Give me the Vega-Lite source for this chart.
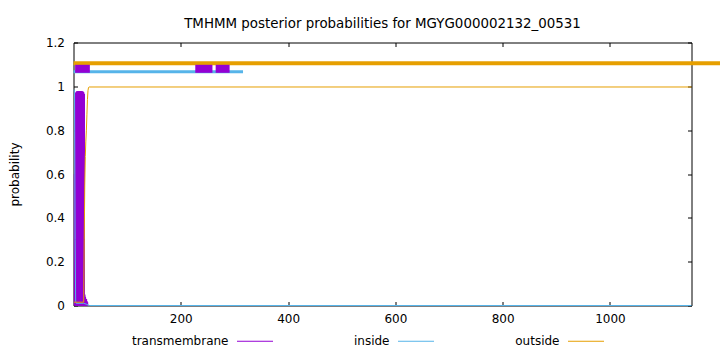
{
  "$schema": "https://vega.github.io/schema/vega-lite/v6.json",
  "width": 618,
  "height": 263,
  "autosize": {"type": "none"},
  "padding": {"left": 73.5, "top": 42.5, "right": 28.5, "bottom": 46.5},
  "background": "white",
  "config": {
    "font": "DejaVu Sans",
    "view": {"stroke": "#000", "strokeWidth": 1},
    "axis": {
      "domain": false, "grid": false, "tickColor": "#000", "tickSize": -4,
      "labelColor": "#000", "labelFont": "DejaVu Sans", "labelFontSize": 12,
      "titleFont": "DejaVu Sans", "titleFontSize": 12, "titleFontWeight": "normal", "titleColor": "#000"
    }
  },
  "title": {
    "text": "TMHMM posterior probabilities for MGYG000002132_00531",
    "font": "DejaVu Sans", "fontSize": 13.4, "fontWeight": "normal", "color": "#000",
    "anchor": "middle", "frame": "group", "offset": -5, "baseline": "alphabetic"
  },
  "datasets": {
    "curves": [
      {"pos": 3, "series": "transmembrane", "prob": 0.6},
      {"pos": 4, "series": "transmembrane", "prob": 0.95},
      {"pos": 5, "series": "transmembrane", "prob": 0.97},
      {"pos": 6, "series": "transmembrane", "prob": 0.975},
      {"pos": 7, "series": "transmembrane", "prob": 0.977},
      {"pos": 8, "series": "transmembrane", "prob": 0.977},
      {"pos": 9, "series": "transmembrane", "prob": 0.977},
      {"pos": 10, "series": "transmembrane", "prob": 0.977},
      {"pos": 11, "series": "transmembrane", "prob": 0.977},
      {"pos": 12, "series": "transmembrane", "prob": 0.977},
      {"pos": 13, "series": "transmembrane", "prob": 0.977},
      {"pos": 14, "series": "transmembrane", "prob": 0.977},
      {"pos": 15, "series": "transmembrane", "prob": 0.977},
      {"pos": 16, "series": "transmembrane", "prob": 0.977},
      {"pos": 17, "series": "transmembrane", "prob": 0.975},
      {"pos": 18, "series": "transmembrane", "prob": 0.972},
      {"pos": 19, "series": "transmembrane", "prob": 0.965},
      {"pos": 20, "series": "transmembrane", "prob": 0.05},
      {"pos": 21, "series": "transmembrane", "prob": 0.04},
      {"pos": 22, "series": "transmembrane", "prob": 0.03},
      {"pos": 23, "series": "transmembrane", "prob": 0.03},
      {"pos": 24, "series": "transmembrane", "prob": 0.02},
      {"pos": 25, "series": "transmembrane", "prob": 0.015},
      {"pos": 1, "series": "inside", "prob": 0.985},
      {"pos": 2, "series": "inside", "prob": 0.97},
      {"pos": 3, "series": "inside", "prob": 0.3},
      {"pos": 4, "series": "inside", "prob": 0.02},
      {"pos": 5, "series": "inside", "prob": 0.01},
      {"pos": 19, "series": "inside", "prob": 0.01},
      {"pos": 25, "series": "inside", "prob": 0.005},
      {"pos": 30, "series": "inside", "prob": 0},
      {"pos": 1152, "series": "inside", "prob": 0},
      {"pos": 1, "series": "outside", "prob": 0.015},
      {"pos": 19, "series": "outside", "prob": 0.015},
      {"pos": 20, "series": "outside", "prob": 0.3},
      {"pos": 21, "series": "outside", "prob": 0.55},
      {"pos": 22, "series": "outside", "prob": 0.68},
      {"pos": 23, "series": "outside", "prob": 0.75},
      {"pos": 24, "series": "outside", "prob": 0.8},
      {"pos": 25, "series": "outside", "prob": 0.87},
      {"pos": 26, "series": "outside", "prob": 0.94},
      {"pos": 27, "series": "outside", "prob": 0.98},
      {"pos": 28, "series": "outside", "prob": 0.995},
      {"pos": 29, "series": "outside", "prob": 0.997},
      {"pos": 1152, "series": "outside", "prob": 0.997}
    ],
    "topology": [
      {"region": "outside", "start": 0, "end": 1260},
      {"region": "inside", "start": 0, "end": 316},
      {"region": "transmembrane", "start": 3, "end": 30.5},
      {"region": "transmembrane", "start": 227, "end": 259},
      {"region": "transmembrane", "start": 265, "end": 291}
    ]
  },
  "layer": [
    {
      "data": {"name": "curves"},
      "transform": [{"filter": "datum.series === 'transmembrane'"}],
      "mark": {"type": "rule", "strokeWidth": 2.6},
      "encoding": {
        "x": {"field": "pos", "type": "quantitative",
              "scale": {"domain": [0, 1152], "nice": false, "zero": false},
              "axis": {"orient": "bottom", "title": null, "values": [200, 400, 600, 800, 1000], "format": "d", "labelPadding": 12}},
        "y": {"field": "prob", "type": "quantitative",
              "scale": {"domain": [0, 1.2], "nice": false},
              "axis": {"orient": "left", "title": "probability", "values": [0, 0.2, 0.4, 0.6, 0.8, 1, 1.2], "format": "~g", "labelPadding": 13, "titlePadding": 24}},
        "y2": {"datum": 0},
        "color": {"field": "series", "type": "nominal",
                  "scale": {"domain": ["transmembrane", "inside", "outside"], "range": ["#9400D3", "#56B4E9", "#E69F00"]},
                  "legend": {"title": null, "orient": "none", "legendX": 163, "legendY": 280, "direction": "horizontal",
                             "symbolType": "stroke", "symbolSize": 1296, "symbolStrokeWidth": 1,
                             "labelAlign": "right", "labelOffset": -45, "labelFont": "DejaVu Sans", "labelFontSize": 12,
                             "labelColor": "#000", "columnPadding": 78, "padding": 0, "labelLimit": 300}}
      }
    },
    {
      "data": {"name": "curves"},
      "transform": [{"filter": "datum.series === 'inside'"}],
      "mark": {"type": "line", "strokeWidth": 1},
      "encoding": {
        "x": {"field": "pos", "type": "quantitative", "axis": null},
        "y": {"field": "prob", "type": "quantitative", "axis": null},
        "color": {"field": "series", "type": "nominal"}
      }
    },
    {
      "data": {"name": "curves"},
      "transform": [{"filter": "datum.series === 'outside'"}],
      "mark": {"type": "line", "strokeWidth": 1},
      "encoding": {
        "x": {"field": "pos", "type": "quantitative", "axis": null},
        "y": {"field": "prob", "type": "quantitative", "axis": null},
        "color": {"field": "series", "type": "nominal"}
      }
    },
    {
      "data": {"name": "topology"},
      "transform": [{"filter": "datum.region === 'outside'"}],
      "mark": {"type": "rule", "strokeWidth": 4, "color": "#E69F00", "clip": false},
      "encoding": {
        "x": {"field": "start", "type": "quantitative",
              "axis": {"orient": "top", "title": null, "labels": false, "values": [200, 400, 600, 800, 1000]}},
        "x2": {"field": "end"},
        "y": {"datum": 1.105, "type": "quantitative",
              "axis": {"orient": "right", "title": null, "labels": false, "values": [0, 0.2, 0.4, 0.6, 0.8, 1, 1.2]}}
      }
    },
    {
      "data": {"name": "topology"},
      "transform": [{"filter": "datum.region === 'inside'"}],
      "mark": {"type": "rule", "strokeWidth": 3, "color": "#56B4E9"},
      "encoding": {
        "x": {"field": "start", "type": "quantitative", "axis": null},
        "x2": {"field": "end"},
        "y": {"datum": 1.066, "type": "quantitative", "axis": null}
      }
    },
    {
      "data": {"name": "topology"},
      "transform": [{"filter": "datum.region === 'transmembrane'"}],
      "mark": {"type": "rule", "strokeWidth": 8, "color": "#9400D3"},
      "encoding": {
        "x": {"field": "start", "type": "quantitative", "axis": null},
        "x2": {"field": "end"},
        "y": {"datum": 1.08, "type": "quantitative", "axis": null}
      }
    }
  ]
}
